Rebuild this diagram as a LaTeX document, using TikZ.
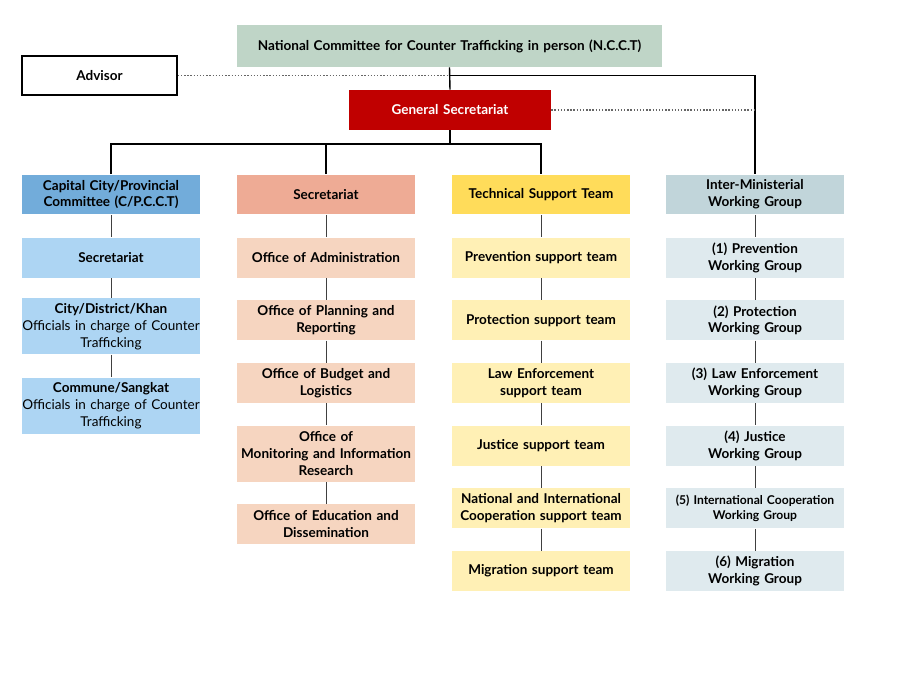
\documentclass[tikz,border=0pt]{standalone}
\usepackage{fontspec}
\setmainfont{Lato}
\usetikzlibrary{positioning}
\definecolor{ncctgreen}{HTML}{BFD5C7}
\definecolor{gsred}{HTML}{C00000}
\definecolor{cityhead}{HTML}{72ACDA}
\definecolor{citysub}{HTML}{ADD5F3}
\definecolor{sechead}{HTML}{EEAB95}
\definecolor{secsub}{HTML}{F6D5C0}
\definecolor{techhead}{HTML}{FFDC5A}
\definecolor{techsub}{HTML}{FFF0B5}
\definecolor{imhead}{HTML}{C1D5DA}
\definecolor{imsub}{HTML}{DFEAEE}
\begin{document}
\begin{tikzpicture}[x=0.02cm, y=-0.02cm, node distance=0.44cm,
  unit/.style={minimum width=3.58cm, text width=3.56cm, minimum height=0.8cm, inner sep=0pt, align=center, font=\fontsize{7.7}{9.6}\selectfont\bfseries},
  tall/.style={minimum height=1.12cm},
  link/.style={draw=black!75, line width=0.5pt},
  trunk/.style={draw=black, line width=0.8pt}]
\useasboundingbox (0,0) rectangle (900,675);

\node[unit, fill=ncctgreen, minimum width=8.5cm, text width=8.4cm, minimum height=0.84cm] (ncct) at (449.5,46) {National Committee for Counter Trafficking in person (N.C.C.T)};
\node[unit, draw=black, line width=0.9pt, fill=white, minimum width=3.1cm, text width=3cm, minimum height=0.78cm] (advisor) at (99.5,75.5) {Advisor};
\node[unit, fill=gsred, text=white, minimum width=4.04cm, text width=3.9cm] (gs) at (450,110) {General Secretariat};

% column heads
\node[unit, fill=cityhead] (cpcct) at (111,194.5) {Capital City/Provincial\\Committee (C/P.C.C.T)};
\node[unit, fill=sechead] (sec) at (326,194.5) {Secretariat};
\node[unit, fill=techhead] (tst) at (541,194.5) {Technical Support Team};
\node[unit, fill=imhead] (im) at (755,194.5) {Inter-Ministerial\\Working Group};

% provincial committee
\node[unit, fill=citysub, below=0.45cm of cpcct] (csec) {Secretariat};
\node[unit, tall, fill=citysub, below=0.4cm of csec] (city) {City/District/Khan\\\mdseries Officials in charge of Counter\\\mdseries Trafficking};
\node[unit, tall, fill=citysub, below=0.45cm of city] (commune) {Commune/Sangkat\\\mdseries Officials in charge of Counter\\\mdseries Trafficking};

% secretariat offices
\node[unit, fill=secsub, below=0.45cm of sec] (admin) {Office of Administration};
\node[unit, fill=secsub, below=of admin] (plan) {Office of Planning and\\Reporting};
\node[unit, fill=secsub, below=of plan] (budget) {Office of Budget and\\Logistics};
\node[unit, tall, fill=secsub, below=of budget] (monitor) {Office of\\Monitoring and Information\\Research};
\node[unit, fill=secsub, below=of monitor] (edu) {Office of Education and\\Dissemination};

% technical support teams
\node[unit, fill=techsub, below=0.45cm of tst] (prevteam) {Prevention support team};
\node[unit, fill=techsub, below=of prevteam] (protteam) {Protection support team};
\node[unit, fill=techsub, below=of protteam] (lawteam) {Law Enforcement\\support team};
\node[unit, fill=techsub, below=of lawteam] (justteam) {Justice support team};
\node[unit, fill=techsub, below=of justteam] (coopteam) {National and International\\Cooperation support team};
\node[unit, fill=techsub, below=of coopteam] (migteam) {Migration support team};

% working groups
\node[unit, fill=imsub, below=0.45cm of im] (prevwg) {(1) Prevention\\Working Group};
\node[unit, fill=imsub, below=of prevwg] (protwg) {(2) Protection\\Working Group};
\node[unit, fill=imsub, below=of protwg] (lawwg) {(3) Law Enforcement\\Working Group};
\node[unit, fill=imsub, below=of lawwg] (justwg) {(4) Justice\\Working Group};
\node[unit, fill=imsub, below=of justwg, font=\fontsize{6.9}{8.6}\selectfont\bfseries] (coopwg) {(5) International Cooperation\\Working Group};
\node[unit, fill=imsub, below=of coopwg] (migwg) {(6) Migration\\Working Group};

% top links
\coordinate (j1) at (ncct.south |- advisor.east);
\coordinate (bus) at (450,144);
\draw[trunk] (ncct.south) -- (gs.north);
\draw[trunk] (j1) -| (im.north);
\draw[densely dotted, black!60, line width=0.8pt] (advisor.east) -- (j1);
\draw[densely dotted, black!60, line width=0.8pt] (gs.east) -- (gs.east -| im.north);
\draw[trunk] (gs.south) -- (bus);
\draw[trunk] (cpcct.north) -- (cpcct.north |- bus) -- (tst.north |- bus) -- (tst.north);
\draw[trunk] (sec.north) -- (sec.north |- bus);

% column links
\foreach \a/\b in {cpcct/csec, csec/city, city/commune,
  sec/admin, admin/plan, plan/budget, budget/monitor, monitor/edu,
  tst/prevteam, prevteam/protteam, protteam/lawteam, lawteam/justteam, justteam/coopteam, coopteam/migteam,
  im/prevwg, prevwg/protwg, protwg/lawwg, lawwg/justwg, justwg/coopwg, coopwg/migwg}
  \draw[link] (\a) -- (\b);
\end{tikzpicture}
\end{document}
